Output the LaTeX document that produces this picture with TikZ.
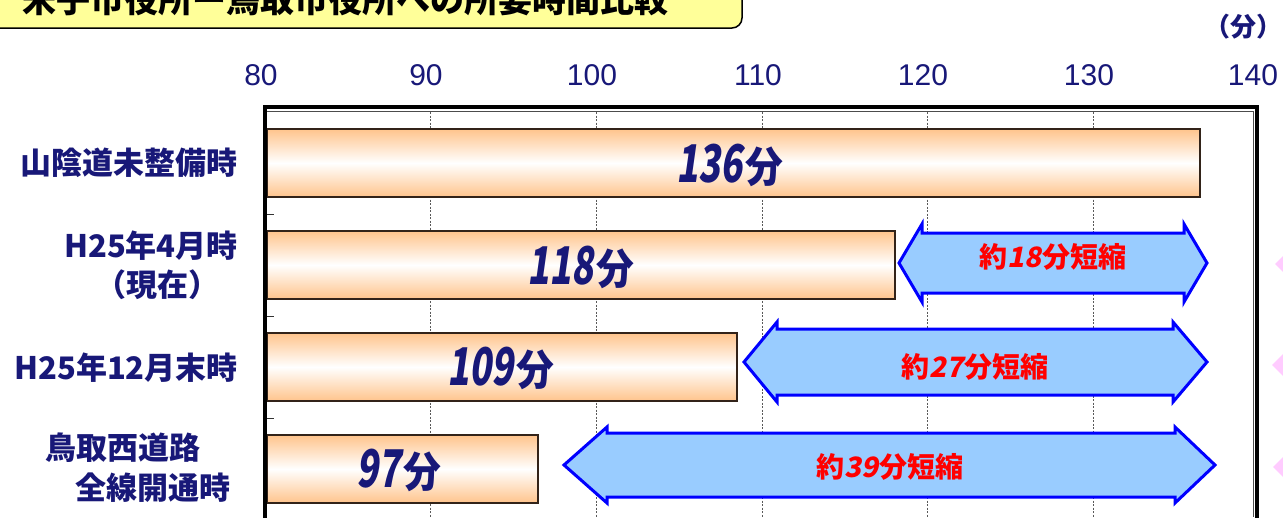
\documentclass[tikz,border=0pt]{standalone}
\usepackage{fontspec}
\usepackage{graphicx}
\setmainfont{Liberation Sans}
\newfontfamily\jp{Noto Sans CJK JP}
\newfontfamily\jpsl{Noto Sans CJK JP}[FakeSlant=0.2]
\definecolor{navyT}{RGB}{24,24,120}
\definecolor{titleY}{RGB}{255,255,153}
\definecolor{barO}{RGB}{255,196,140}
\definecolor{barEdge}{RGB}{50,35,25}
\definecolor{arrFill}{RGB}{153,204,255}
\definecolor{arrEdge}{RGB}{0,0,255}
\definecolor{redT}{RGB}{255,0,0}
\definecolor{pinkT}{RGB}{255,204,255}
\newcommand\fsz[1]{\fontsize{#1}{#1}\selectfont}
\newcommand\blockarrow[7]{%
  \draw[blkarrow] (#1,#5) -- (#3,#5-#7) -- (#3,#5-#6) -- (#4,#5-#6) -- (#4,#5-#7)
   -- (#2,#5) -- (#4,#5+#7) -- (#4,#5+#6) -- (#3,#5+#6) -- (#3,#5+#7) -- cycle;}
\newcommand\valtext[1]{\scalebox{0.7}[1]{\fsz{52}\jpsl\bfseries #1}\kern3pt\scalebox{0.9}[1]{\fsz{42}\jp\bfseries 分}}
\newcommand\redtext[1]{{\fsz{28}\jp\bfseries 約}{\fsz{28}\jpsl\bfseries #1}\kern1pt{\fsz{28}\jp\bfseries 分短縮}}
\begin{document}
\begin{tikzpicture}[x=1pt,y=-1pt,
  grid/.style={draw=black!65, line width=1pt, dash pattern=on 2pt off 1.5pt},
  barbox/.style={draw=barEdge, line width=1.6pt, top color=barO, bottom color=barO, middle color=white},
  blkarrow/.style={draw=arrEdge, fill=arrFill, line width=3pt, line join=miter},
  axlab/.style={text=navyT, font=\fsz{30}, inner sep=0pt},
  rowlab/.style={text=navyT, font=\fsz{31}\jp\bfseries, inner sep=0pt},
  vallab/.style={text=navyT, inner sep=0pt},
  redlab/.style={text=redT, inner sep=0pt},
  frame/.style={draw=black, line width=3.5pt},
  pinktip/.style={fill=pinkT, draw=none}]
\useasboundingbox (0,0) rectangle (1283,517);
\fill[white] (0,0) rectangle (1283,517);
% title
\draw[fill=titleY, line width=1.5pt, rounded corners=10pt] (-20,-30) rectangle (742,28);
\node[anchor=base west, inner sep=0pt, font=\fsz{34}\jp\bfseries] (title) at (22,12) {米子市役所ー鳥取市役所への所要時間比較};
% unit
\node[text=navyT, font=\fsz{26}\jp\bfseries, inner sep=0pt] (unit) at (1243,27) {（分）};
% axis labels
\foreach \v/\x in {80/261,90/426,100/592,110/758,120/923,130/1089,140/1253}
  \node[axlab] (ax\v) at (\x,75) {\v};
% gridlines
\foreach \x in {430,596,762,927,1093}
  \draw[grid] (\x,112) -- (\x,517);
% ticks
\foreach \y in {214,316,418}
  \draw[black!80, line width=1pt] (267,\y) -- (274,\y);
% bars
\path[barbox] (267,129) rectangle (1200,197);
\path[barbox] (267,231) rectangle (895,299);
\path[barbox] (267,333) rectangle (737,401);
\path[barbox] (267,435) rectangle (538,503);
% bar values
\node[vallab] (val1) at (730,165) {\valtext{136}};
\node[vallab] (val2) at (581,267) {\valtext{118}};
\node[vallab] (val3) at (501,368) {\valtext{109}};
\node[vallab] (val4) at (399,470) {\valtext{97}};
% block arrows
\blockarrow{899}{1207}{922}{1184}{263}{30}{39}
\blockarrow{744}{1207}{777}{1173}{362}{33}{40}
\blockarrow{564}{1215}{607}{1175}{465}{32}{38}
\node[redlab] (red1) at (1053,257) {\redtext{18}};
\node[redlab] (red2) at (975,367) {\redtext{27}};
\node[redlab] (red3) at (890,467) {\redtext{39}};
% pink tips
\path[pinktip] (1275,264) -- (1295,244) -- (1295,284) -- cycle;
\path[pinktip] (1272,365) -- (1300,337) -- (1300,393) -- cycle;
\path[pinktip] (1273,467) -- (1300,440) -- (1300,494) -- cycle;
% row labels
\node[rowlab, anchor=east] (lab1) at (238,163) {山陰道未整備時};
\node[rowlab, anchor=east] (lab2a) at (238,246) {H25年4月時};
\node[rowlab] (lab2b) at (157,285) {（現在）};
\node[rowlab, anchor=east] (lab3) at (238,368) {H25年12月末時};
\node[rowlab, anchor=west] (lab4a) at (45,448) {鳥取西道路};
\node[rowlab, anchor=west] (lab4b) at (75,488) {全線開通時};
% frame
\draw[black!70, line width=1pt] (267,111) -- (1253,111) -- (1253,517);
\draw[frame] (265,520) -- (265,107) -- (1257,107) -- (1257,520);
\end{tikzpicture}
\end{document}
